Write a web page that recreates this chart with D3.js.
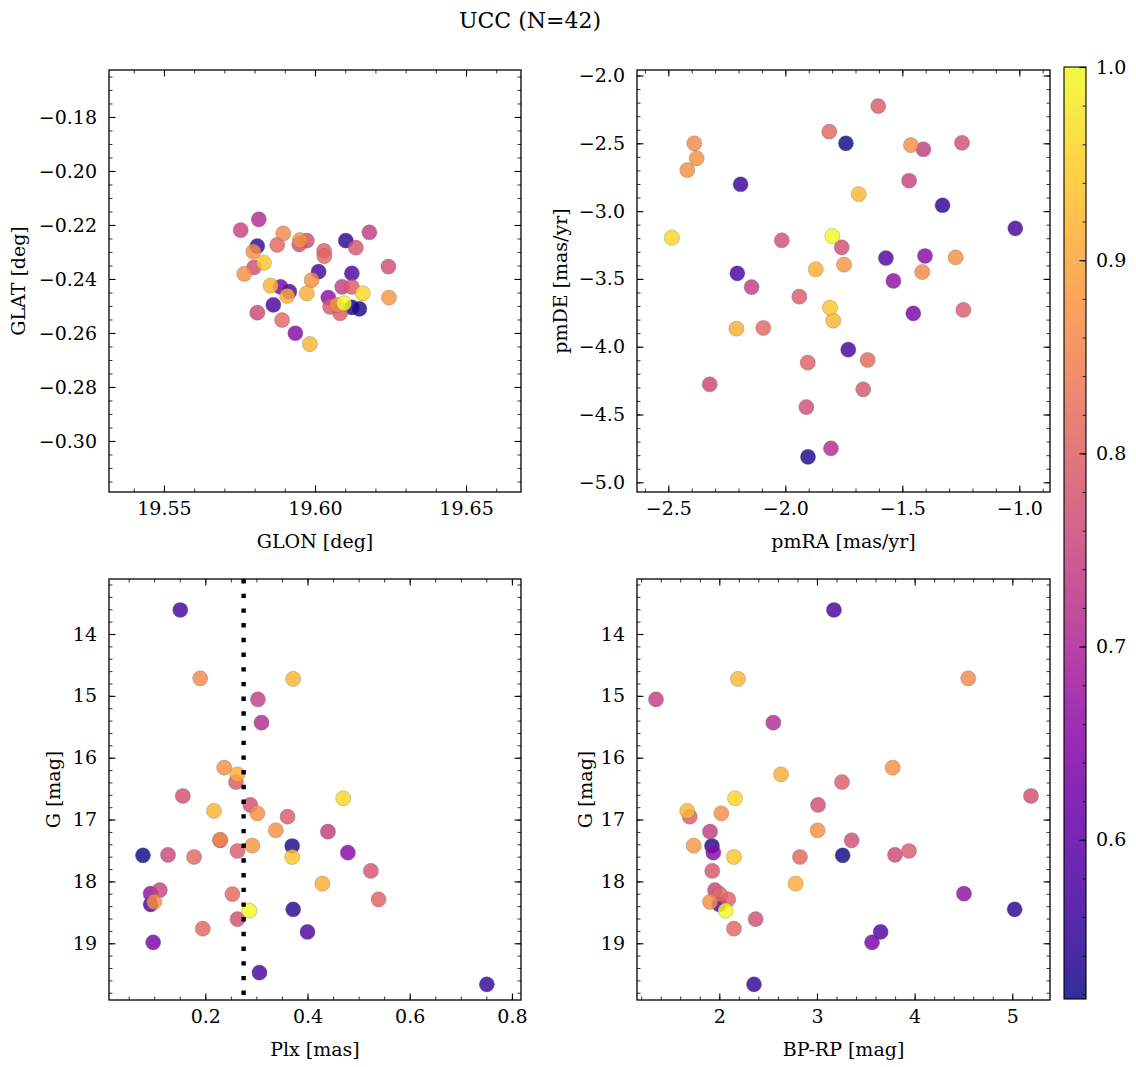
<!DOCTYPE html>
<html><head><meta charset="utf-8">
<script src="https://cdn.jsdelivr.net/npm/d3@7"></script>
<style>body{margin:0;background:#fff;} text{font-family:"DejaVu Serif",serif;fill:#000;}</style>
</head><body><svg id="c" width="1136" height="1067"></svg>
<script>
// ---- data (one entry per star) ----
const prob = [0.57,0.86,0.92,0.74,0.71,0.87,0.91,0.79,0.77,0.96,0.77,0.87,0.92,0.79,0.87,0.74,0.77,0.86,0.79,0.88,0.53,0.94,0.65,0.518,0.76,0.81,0.78,0.91,0.75,0.66,0.81,0.80,0.57,0.87,1.00,0.54,0.77,0.81,0.58,0.63,0.57,0.55];
const glon = [19.5915,19.5895,19.5853,19.6090,19.5814,19.5950,19.5908,19.6122,19.5973,19.6158,19.5948,19.5766,19.5983,19.6050,19.5989,19.6180,19.5798,19.6072,19.6083,19.6245,19.6147,19.5831,19.5935,19.6122,19.5809,19.5875,19.6135,19.5973,19.5754,19.6044,19.5891,19.6030,19.5862,19.5796,19.6096,19.6102,19.6243,19.6031,19.6122,19.5886,19.6012,19.5809];
const glat = [-0.2447,-0.2231,-0.2425,-0.2429,-0.2179,-0.2256,-0.2463,-0.2429,-0.2258,-0.2453,-0.2272,-0.2381,-0.2641,-0.2503,-0.2404,-0.2227,-0.2357,-0.2496,-0.2527,-0.2469,-0.2511,-0.2340,-0.2601,-0.2505,-0.2525,-0.2274,-0.2284,-0.2453,-0.2219,-0.2469,-0.2552,-0.2296,-0.2496,-0.2299,-0.2490,-0.2258,-0.2354,-0.2315,-0.2379,-0.2429,-0.2373,-0.2278];
const pmra = [-2.205,-2.389,-1.686,-1.410,-1.805,-2.379,-1.870,-1.940,-1.245,-2.485,-2.015,-1.463,-1.795,-1.239,-1.272,-2.144,-1.759,-1.415,-1.603,-1.749,-1.903,-1.809,-1.403,-1.741,-2.323,-1.812,-1.667,-2.209,-1.471,-1.538,-2.094,-1.904,-1.731,-2.419,-1.799,-1.328,-1.910,-1.648,-1.570,-1.453,-1.017,-2.191];
const pmde = [-3.459,-2.500,-2.874,-2.544,-4.749,-2.611,-3.429,-3.631,-2.496,-3.196,-3.215,-2.513,-3.808,-3.729,-3.341,-3.560,-3.267,-3.449,-2.225,-3.395,-4.813,-3.712,-3.331,-2.500,-4.277,-2.414,-4.314,-3.867,-2.776,-3.515,-3.862,-4.118,-4.022,-2.697,-3.184,-2.957,-4.445,-4.098,-3.346,-3.754,-3.127,-2.802];
const plx  = [0.151,0.190,0.372,0.303,0.310,0.237,0.263,0.260,0.156,0.470,0.288,0.302,0.217,0.361,0.338,0.440,0.229,0.229,0.263,0.292,0.370,0.370,0.479,0.078,0.127,0.178,0.524,0.429,0.111,0.093,0.253,0.539,0.093,0.100,0.286,0.372,0.263,0.195,0.400,0.098,0.306,0.751];
const gmag = [13.612,14.716,14.727,15.056,15.433,16.161,16.268,16.393,16.619,16.656,16.764,16.899,16.861,16.953,17.173,17.196,17.335,17.325,17.508,17.422,17.427,17.605,17.535,17.578,17.570,17.605,17.831,18.036,18.140,18.198,18.205,18.289,18.370,18.332,18.473,18.451,18.610,18.764,18.817,18.984,19.475,19.663];
const bprp = [3.174,4.549,2.191,1.352,2.553,3.775,2.632,3.256,5.191,2.161,3.011,2.021,1.672,1.697,3.007,1.905,3.355,null,3.942,1.738,1.925,2.150,1.939,3.263,3.799,2.826,1.928,2.782,1.956,4.505,2.007,2.092,2.000,1.905,2.065,5.024,2.372,2.150,3.652,3.564,null,2.355];
const plxLine = 0.275;
const title = "UCC (N=42)";
// tick labels / tick values
const p1xTicks = [19.55,19.60,19.65], p1yTicks = [-0.30,-0.28,-0.26,-0.24,-0.22,-0.20,-0.18];
const p2xTicks = [-2.5,-2.0,-1.5,-1.0], p2yTicks = [-5.0,-4.5,-4.0,-3.5,-3.0,-2.5,-2.0];
const p3xTicks = [0.2,0.4,0.6,0.8], gTicks = [14,15,16,17,18,19];
const p4xTicks = [2,3,4,5], cbTicks = [0.6,0.7,0.8,0.9,1.0];

const FS = 19;
const svg = d3.select("#c");
const stars = prob.map((p,i)=>({i,p,glon:glon[i],glat:glat[i],pmra:pmra[i],pmde:pmde[i],plx:plx[i],g:gmag[i],bprp:bprp[i]}))
  .sort((a,b)=>a.p-b.p);
const cMin = 0.5176, cMax = 1.0;
const cnorm = d3.scaleLinear().domain([cMin,cMax]).range([0,1]).clamp(true);
const color = v => d3.interpolatePlasma(cnorm(v));

const minus = s => s.replace("-","\u2212");
function range(a,b,s){const r=[];for(let v=a;v<=b+1e-9;v+=s)r.push(+v.toFixed(6));return r;}

function panel(o){
  const g = svg.append("g").attr("transform",`translate(${o.x},${o.y})`);
  const x = d3.scaleLinear().domain(o.xd).range([0,o.w]);
  const y = d3.scaleLinear().domain(o.yd).range([o.h,0]);
  const xf = v=>minus(d3.format(o.xfmt)(v)), yf = v=>minus(d3.format(o.yfmt)(v));
  const clip = "clip"+o.id;
  g.append("clipPath").attr("id",clip).append("rect").attr("width",o.w).attr("height",o.h);
  const pts = g.append("g").attr("clip-path",`url(#${clip})`);
  pts.selectAll("circle").data(stars.filter(d=>d[o.xk]!=null && d[o.yk]!=null)).join("circle")
    .attr("cx",d=>x(d[o.xk])).attr("cy",d=>y(d[o.yk])).attr("r",7.6)
    .attr("fill",d=>color(d.p)).attr("fill-opacity",0.82)
    .attr("stroke","#666").attr("stroke-opacity",0.6).attr("stroke-width",0.5);
  if(o.vline!=null){
    pts.append("line").attr("x1",x(o.vline)).attr("x2",x(o.vline)).attr("y1",0).attr("y2",o.h)
      .attr("stroke","#000").attr("stroke-width",4.4).attr("stroke-dasharray","4.4 10.3");
  }
  const xmin = range(o.xm[0],o.xm[1],o.xm[2]).filter(v=>v>o.xd[0]&&v<o.xd[1]);
  const ymin = range(o.ym[0],o.ym[1],o.ym[2]).filter(v=>v>Math.min(...o.yd)&&v<Math.max(...o.yd));
  const ax = (gen,tr)=>{const a=g.append("g").attr("transform",tr).call(gen);a.select(".domain").remove();
    a.selectAll("line").attr("stroke","#000");a.selectAll("text").attr("font-size",FS).attr("font-family","DejaVu Serif");return a;};
  const Wmaj=1.1, Wmin=0.8;
  ax(d3.axisBottom(x).tickValues(o.xt).tickSize(-6.5).tickPadding(10).tickFormat(xf),`translate(0,${o.h})`).selectAll("line").attr("stroke-width",Wmaj);
  ax(d3.axisBottom(x).tickValues(xmin).tickSize(-3.5).tickFormat(""),`translate(0,${o.h})`).selectAll("line").attr("stroke-width",Wmin);
  ax(d3.axisTop(x).tickValues(o.xt).tickSize(-6.5).tickFormat(""),`translate(0,0)`).selectAll("line").attr("stroke-width",Wmaj);
  ax(d3.axisTop(x).tickValues(xmin).tickSize(-3.5).tickFormat(""),`translate(0,0)`).selectAll("line").attr("stroke-width",Wmin);
  ax(d3.axisLeft(y).tickValues(o.yt).tickSize(-6.5).tickPadding(12).tickFormat(yf),`translate(0,0)`).selectAll("line").attr("stroke-width",Wmaj);
  ax(d3.axisLeft(y).tickValues(ymin).tickSize(-3.5).tickFormat(""),`translate(0,0)`).selectAll("line").attr("stroke-width",Wmin);
  ax(d3.axisRight(y).tickValues(o.yt).tickSize(-6.5).tickFormat(""),`translate(${o.w},0)`).selectAll("line").attr("stroke-width",Wmaj);
  ax(d3.axisRight(y).tickValues(ymin).tickSize(-3.5).tickFormat(""),`translate(${o.w},0)`).selectAll("line").attr("stroke-width",Wmin);
  g.append("rect").attr("width",o.w).attr("height",o.h).attr("fill","none").attr("stroke","#000").attr("stroke-width",1.3);
  g.append("text").attr("x",o.w/2).attr("y",o.h+49).attr("text-anchor","middle").attr("dominant-baseline","central")
    .attr("font-size",FS).text(o.xl);
  g.append("text").attr("transform",`translate(${o.ylx},${o.h/2}) rotate(-90)`).attr("text-anchor","middle")
    .attr("dominant-baseline","central").attr("font-size",FS).text(o.yl);
}

panel({id:1,x:109,y:70,w:412,h:422,xd:[19.5318,19.6682],yd:[-0.3189,-0.1626],xk:"glon",yk:"glat",
  xt:p1xTicks,yt:p1yTicks,xm:[19.53,19.67,0.01],ym:[-0.32,-0.16,0.005],xfmt:".2f",yfmt:".2f",
  xl:"GLON [deg]",yl:"GLAT [deg]",ylx:-91});
panel({id:2,x:637,y:70,w:413,h:422,xd:[-2.6338,-0.8688],yd:[-5.0715,-1.9594],xk:"pmra",yk:"pmde",
  xt:p2xTicks,yt:p2yTicks,xm:[-2.7,-0.8,0.1],ym:[-5.1,-1.9,0.1],xfmt:".1f",yfmt:".1f",
  xl:"pmRA [mas/yr]",yl:"pmDE [mas/yr]",ylx:-77});
panel({id:3,x:109,y:579,w:412,h:421,xd:[0.01155,0.8178],yd:[19.917,13.111],xk:"plx",yk:"g",
  xt:p3xTicks,yt:gTicks,xm:[0,0.85,0.05],ym:[13,20,0.2],xfmt:".1f",yfmt:"d",
  xl:"Plx [mas]",yl:"G [mag]",ylx:-56,vline:plxLine});
panel({id:4,x:637,y:579,w:413,h:421,xd:[1.1574,5.386],yd:[19.917,13.111],xk:"bprp",yk:"g",
  xt:p4xTicks,yt:gTicks,xm:[1.0,5.6,0.2],ym:[13,20,0.2],xfmt:"d",yfmt:"d",
  xl:"BP-RP [mag]",yl:"G [mag]",ylx:-52});

// colorbar
const cb = {x:1064,y:67,w:22,h:932};
const defs = svg.append("defs");
const grad = defs.append("linearGradient").attr("id","cbg").attr("x1",0).attr("y1",1).attr("x2",0).attr("y2",0);
d3.range(0,1.0001,0.05).forEach(t=>grad.append("stop").attr("offset",t).attr("stop-color",d3.interpolatePlasma(t)));
const cg = svg.append("g").attr("transform",`translate(${cb.x},${cb.y})`);
cg.append("rect").attr("width",cb.w).attr("height",cb.h).attr("fill","url(#cbg)").attr("fill-opacity",0.85);
const cy = d3.scaleLinear().domain([cMin,cMax]).range([cb.h,0]);
const cax = cg.append("g").attr("transform",`translate(${cb.w},0)`)
  .call(d3.axisRight(cy).tickValues(cbTicks).tickSize(-6.5).tickPadding(10).tickFormat(d3.format(".1f")));
cax.select(".domain").remove(); cax.selectAll("line").attr("stroke-width",1.1);
cax.selectAll("text").attr("font-size",FS).attr("font-family","DejaVu Serif");
const cmin = range(0.52,1.0,0.02).filter(v=>v>cMin&&v<cMax);
const cax2 = cg.append("g").attr("transform",`translate(${cb.w},0)`)
  .call(d3.axisRight(cy).tickValues(cmin).tickSize(-3.5).tickFormat(""));
cax2.select(".domain").remove(); cax2.selectAll("line").attr("stroke-width",0.8);
cg.append("rect").attr("width",cb.w).attr("height",cb.h).attr("fill","none").attr("stroke","#000").attr("stroke-width",1.1);

svg.append("text").attr("x",530).attr("y",20).attr("text-anchor","middle").attr("dominant-baseline","central")
  .attr("font-size",22).text(title);
</script></body></html>
